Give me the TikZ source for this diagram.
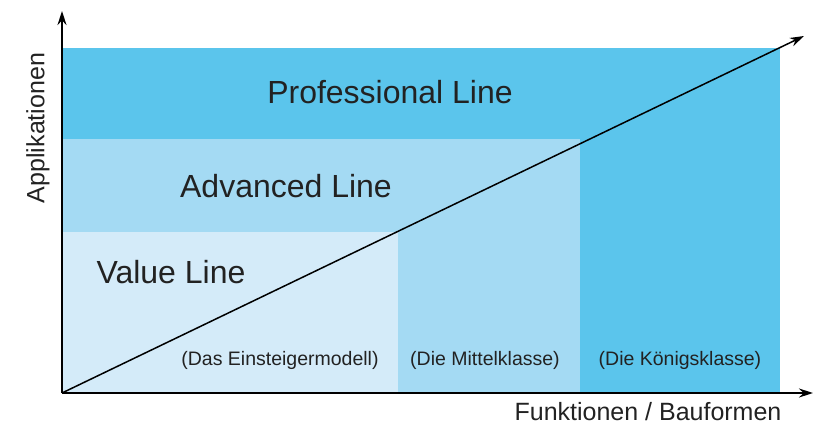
\documentclass[tikz,border=0pt]{standalone}
\usepackage{fontspec}
\setmainfont{Liberation Sans}
\usetikzlibrary{arrows.meta}
\definecolor{cdark}{HTML}{5BC5EC}
\definecolor{cmid}{HTML}{A4DAF3}
\definecolor{clight}{HTML}{D4EBF9}
\definecolor{ctext}{HTML}{222222}
\tikzset{
  axisline/.style={line width=1.5pt, -{Stealth[length=14pt,width=9pt]}},
  bigtxt/.style={text=ctext, font=\fontsize{32}{36}\selectfont, inner sep=0pt},
  smalltxt/.style={text=ctext, font=\fontsize{19.5}{23}\selectfont, inner sep=0pt},
  axtxt/.style={text=ctext, font=\fontsize{25}{29}\selectfont, inner sep=0pt}
}
\begin{document}
\begin{tikzpicture}[x=1pt,y=-1pt]
\useasboundingbox (0,0) rectangle (820,426);
% bands
\fill[cdark] (62,48) rectangle (780,139);
\fill[cdark] (580,139) rectangle (780,393);
\fill[cmid] (62,139) rectangle (580,232);
\fill[cmid] (398,232) rectangle (580,393);
\fill[clight] (62,232) rectangle (398,393);
% axes
\coordinate (o) at (62,393);
\coordinate (ytop) at (62,11);
\coordinate (xend) at (813,393);
\coordinate (dend) at (804,36);
\draw[axisline] (o) -- (ytop);
\draw[axisline] (o) -- (xend);
\draw[axisline] (o) -- (dend);
% labels
\node[bigtxt] (pro) at (390,92) {Professional Line};
\node[bigtxt] (adv) at (286,186) {Advanced Line};
\node[bigtxt] (val) at (171,272) {Value Line};
\node[smalltxt] (ein) at (280,360) {(Das Einsteigermodell)};
\node[smalltxt] (mit) at (485,360) {(Die Mittelklasse)};
\node[smalltxt] (koe) at (680,360) {(Die Königsklasse)};
\node[axtxt] (fx) at (648,412) {Funktionen / Bauformen};
\node[axtxt, rotate=90] (fy) at (38,128) {Applikationen};
\end{tikzpicture}
\end{document}
